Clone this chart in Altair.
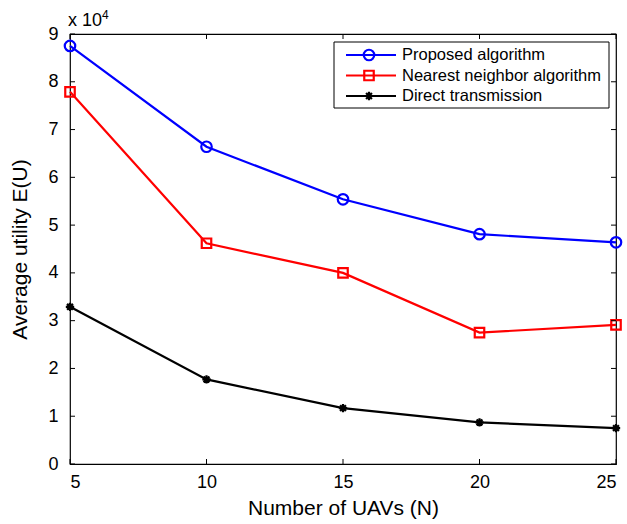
import altair as alt
import pandas as pd

# ---- data ----
n_uavs = [5, 10, 15, 20, 25]
proposed = [87500, 66400, 55400, 48100, 46400]
nearest = [77900, 46200, 40000, 27500, 29100]
direct = [32900, 17700, 11700, 8700, 7500]
series_names = ["Proposed algorithm", "Nearest neighbor algorithm", "Direct transmission"]
series_colors = ["#0000ff", "#ff0000", "#000000"]
x_ticks = [5, 10, 15, 20, 25]
y_ticks = [0, 10000, 20000, 30000, 40000, 50000, 60000, 70000, 80000, 90000]

W, H = 546, 430
FONT = "Liberation Sans"
ASTERISK = "M-1,0L1,0M0,-1L0,1M-0.7,-0.7L0.7,0.7M-0.7,0.7L0.7,-0.7"

rows = []
for name, vals in zip(series_names, [proposed, nearest, direct]):
    for xv, yv in zip(n_uavs, vals):
        rows.append({"N": xv, "U": yv, "series": name})
df = pd.DataFrame(rows)

xs = alt.Scale(domain=[5, 25], nice=False, zero=False)
ys = alt.Scale(domain=[0, 90000], nice=False)
color = alt.Color("series:N", scale=alt.Scale(domain=series_names, range=series_colors), legend=None)
shape = alt.Shape("series:N", scale=alt.Scale(domain=series_names, range=["circle", "square", ASTERISK]), legend=None)
size = alt.Size("series:N", scale=alt.Scale(domain=series_names, range=[110, 70, 90]), legend=None)

x_enc = alt.X("N:Q", scale=xs, title="Number of UAVs (N)",
              axis=alt.Axis(values=x_ticks, grid=False, ticks=False, domain=False,
                            labelPadding=9, titlePadding=6, format="d"))
y_enc = alt.Y("U:Q", scale=ys, title="Average utility E(U)",
              axis=alt.Axis(values=y_ticks, grid=False, ticks=False, domain=False,
                            labelExpr="datum.value / 10000", labelPadding=12, titlePadding=17))

lines = alt.Chart(df).mark_line(strokeWidth=2.2).encode(x=x_enc, y=y_enc, color=color, detail="series:N")
points = alt.Chart(df).mark_point(filled=False, strokeWidth=2.2, opacity=1).encode(
    x=alt.X("N:Q", scale=xs), y=alt.Y("U:Q", scale=ys), color=color, shape=shape, size=size)

# inward ticks (MATLAB style)
ytk = pd.DataFrame({"v": y_ticks})
xtk = pd.DataFrame({"v": x_ticks})
ytick_l = alt.Chart(ytk).mark_rule(color="black").encode(
    y=alt.Y("v:Q", scale=ys), x=alt.value(0), x2=alt.value(5))
ytick_r = alt.Chart(ytk).mark_rule(color="black").encode(
    y=alt.Y("v:Q", scale=ys), x=alt.value(W - 5), x2=alt.value(W))
xtick_b = alt.Chart(xtk).mark_rule(color="black").encode(
    x=alt.X("v:Q", scale=xs), y=alt.value(H - 5), y2=alt.value(H))
xtick_t = alt.Chart(xtk).mark_rule(color="black").encode(
    x=alt.X("v:Q", scale=xs), y=alt.value(0), y2=alt.value(5))

one = pd.DataFrame({"a": [1]})
exp_base = alt.Chart(one).mark_text(text="x 10", fontSize=18, font=FONT, align="left",
                                    baseline="alphabetic", color="black").encode(
    x=alt.value(-2), y=alt.value(-8))
exp_sup = alt.Chart(one).mark_text(text="4", fontSize=12, font=FONT, align="left",
                                   baseline="alphabetic", color="black").encode(
    x=alt.value(32), y=alt.value(-15))

main = alt.layer(lines, points, ytick_l, ytick_r, xtick_b, xtick_t, exp_base, exp_sup)

# legend
leg_df = pd.DataFrame({"series": series_names, "row": list(range(len(series_names)))})
ly = alt.Y("row:Q", scale=alt.Scale(domain=[0, 2], range=[21, 62]), axis=None)
leg_box = alt.Chart(one).mark_rect(fill="white", stroke="black", strokeWidth=1).encode(
    x=alt.value(264), x2=alt.value(539), y=alt.value(8), y2=alt.value(74))
leg_line = alt.Chart(leg_df).mark_rule(strokeWidth=2.2).encode(
    x=alt.value(276), x2=alt.value(326), y=ly, color=color)
leg_pt = alt.Chart(leg_df).mark_point(filled=False, strokeWidth=2.2, opacity=1).encode(
    x=alt.value(299), y=ly, color=color, shape=shape,
    size=alt.Size("series:N", scale=alt.Scale(domain=series_names, range=[80, 55, 65]), legend=None))
leg_txt = alt.Chart(leg_df).mark_text(align="left", baseline="middle", fontSize=16.5, font=FONT,
                                      color="black").encode(
    x=alt.value(332), y=ly, text="series:N")
legend = alt.layer(leg_box, leg_line, leg_pt, leg_txt)

chart = alt.layer(main, legend).resolve_scale(y="independent").properties(
    width=W, height=H,
    autosize=alt.AutoSizeParams(type="none"),
    padding={"left": 70, "top": 34, "right": 11, "bottom": 60},
    background="white",
).configure_view(stroke="black", strokeWidth=1.2).configure_axis(
    labelFont=FONT, titleFont=FONT, labelFontSize=18, titleFontSize=21,
    labelColor="black", titleColor="black", titleFontWeight="normal",
)

chart.save("out.html", embed_options={"renderer": "svg", "actions": False})
